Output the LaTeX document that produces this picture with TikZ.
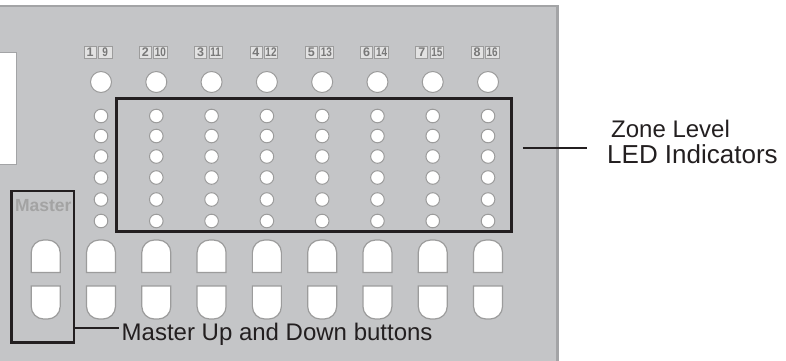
\documentclass[tikz,border=0pt]{standalone}
\usepackage{fontspec}
\setmainfont{Liberation Sans}
\usepackage{tikz}

\definecolor{panelgray}{HTML}{C4C5C7}
\definecolor{edgegray}{HTML}{A3A4A6}
\definecolor{ledgray}{HTML}{9C9C9C}
\definecolor{numgray}{HTML}{787878}
\definecolor{numfill}{HTML}{E2E2E2}
\definecolor{lblgray}{HTML}{A3A3A3}
\definecolor{inkblack}{HTML}{231F20}

\tikzset{
    numbox/.style={draw=ledgray, fill=numfill, text=numgray, line width=0.8pt,
        font=\fontsize{12.5}{12.5}\selectfont\bfseries, minimum height=12pt,
        minimum width=12pt, inner sep=0.3pt},
    hlbox/.style={draw=inkblack, line width=2.5pt, inner sep=0pt},
    conn/.style={draw=inkblack, line width=2pt},
    callout/.style={text=inkblack, font=\fontsize{24}{26}\selectfont, inner sep=0pt},
    led/.style={fill=white, draw=ledgray, line width=1pt},
}

\begin{document}
\begin{tikzpicture}[x=1pt, y=-1pt]
    \useasboundingbox (0,0) rectangle (786,360);
    \clip (0,0) rectangle (786,360);

    % Draw the panel
    \filldraw[fill=panelgray, draw=edgegray, line width=2.5pt] (-5,6) rectangle (557.5,370);
    \filldraw[fill=white, draw=edgegray, line width=1pt] (-5,52) rectangle (16,164);

    % Channel numbers, big LEDs and level LEDs
    \foreach \c/\n/\m in {1/1/9, 2/2/10, 3/3/11, 4/4/12, 5/5/13, 6/6/14, 7/7/15, 8/8/16} {
        \pgfmathsetmacro{\xc}{101+55.29*(\c-1)}
        \node[numbox, anchor=east] (num-\n) at (\xc-4.5,52.5) {\n};
        \node[numbox, anchor=west, minimum width=13.5pt] (num-\m) at (\xc-3,52.5)
            {\scalebox{0.8}[1]{\m}};
        \filldraw[led] (\xc,82) circle (10.5pt);
        \foreach \y in {116,136,156.5,177.5,199.5,221}
            \filldraw[led] (\xc,\y) circle (6.8pt);
    }

    % Up and down buttons (column 0 is the master)
    \foreach \c in {0,...,8} {
        \pgfmathsetmacro{\xc}{101+55.29*(\c-1)}
        \filldraw[led, line width=1.2pt] (\xc-14.5,272.5) [rounded corners=12.5pt] -- (\xc-14.5,240)
            -- (\xc+14.5,240) [sharp corners] -- (\xc+14.5,272.5) -- cycle;
        \filldraw[led, line width=1.2pt] (\xc-14.5,286) [rounded corners=12.5pt] -- (\xc-14.5,319)
            -- (\xc+14.5,319) [sharp corners] -- (\xc+14.5,286) -- cycle;
    }

    % Master label
    \node[text=lblgray, font=\fontsize{17.5}{17.5}\selectfont\bfseries, anchor=base, inner sep=0pt]
        (masterlbl) at (43.3,211.7) {Master};

    % Highlight boxes
    \node[hlbox, minimum width=395pt, minimum height=133.4pt] (zonebox) at (314.2,165) {};
    \node[hlbox, minimum width=62.3pt, minimum height=151.5pt] (masterbox) at (42.85,266.5) {};

    % Callout texts
    \node[callout, anchor=base west] (zonetxt) at (611,137) {Zone Level};
    \node[callout, anchor=base west, font=\fontsize{26}{26}\selectfont] (ledtxt) at (607,163)
        {LED Indicators};
    \node[callout, anchor=base west] (mastertxt) at (121.5,340) {Master Up and Down buttons};

    % Callout lines
    \coordinate (zonejoin) at ([xshift=-20pt, yshift=14.7pt]ledtxt.base west);
    \coordinate (masterjoin) at ([xshift=-3pt, yshift=11.7pt]mastertxt.base west);
    \draw[conn] ([xshift=10pt]zonebox.east |- zonejoin) -- (zonejoin);
    \draw[conn] (masterbox.east |- masterjoin) -- (masterjoin);

\end{tikzpicture}
\end{document}
